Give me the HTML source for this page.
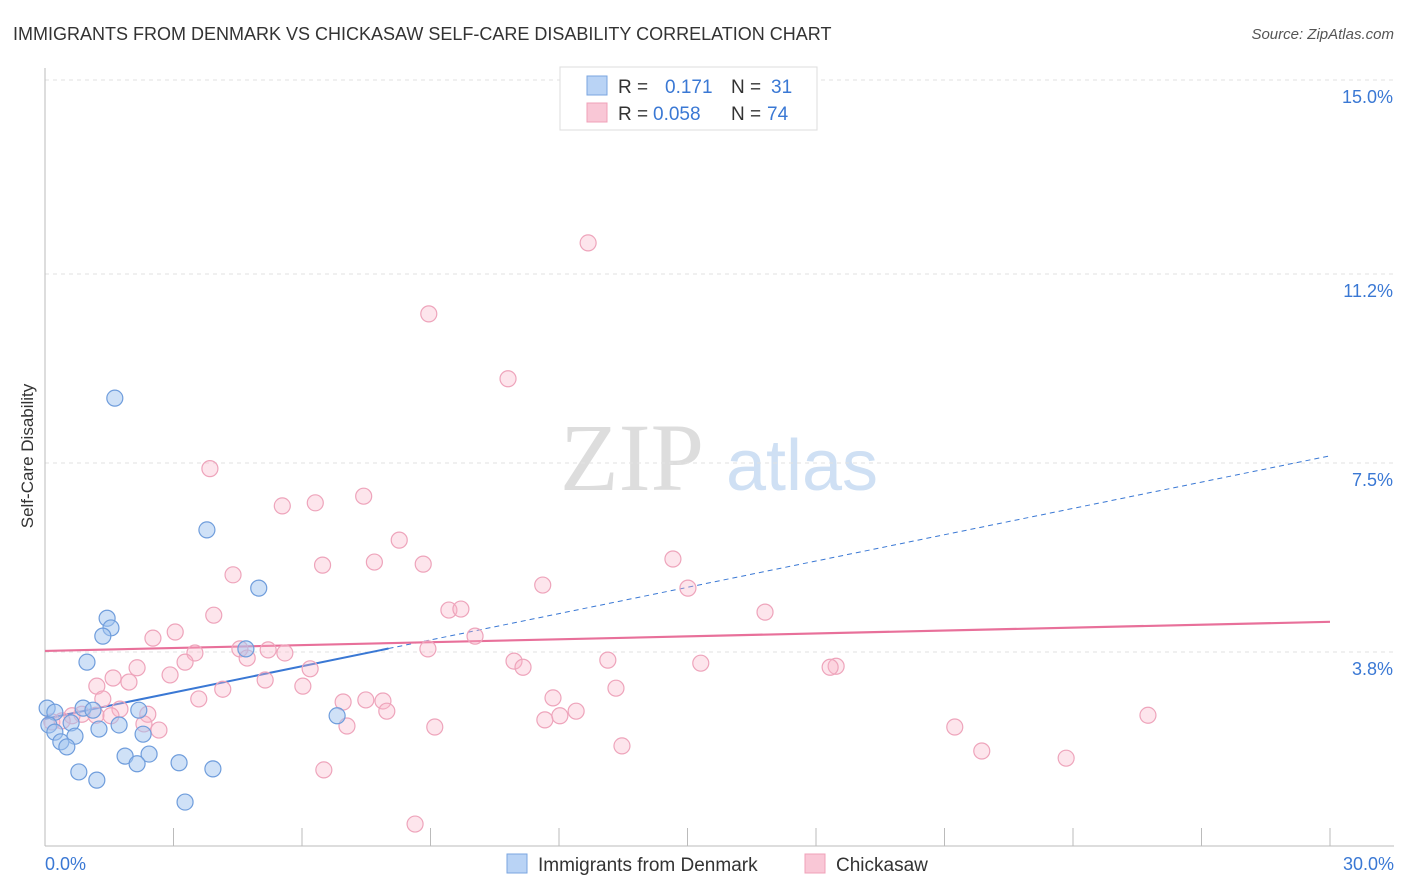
<!DOCTYPE html>
<html><head><meta charset="utf-8">
<style>
body{margin:0;background:#fff;font-family:"Liberation Sans",sans-serif;}
#wrap{position:relative;width:1406px;height:892px;overflow:hidden;}
</style></head>
<body>
<div id="wrap">
<svg id="svg" width="1406" height="892" xmlns="http://www.w3.org/2000/svg">
<text x="13" y="40" font-size="18" fill="#333">IMMIGRANTS FROM DENMARK VS CHICKASAW SELF-CARE DISABILITY CORRELATION CHART</text>
<text x="1394" y="39" font-size="15" fill="#555" text-anchor="end" font-style="italic">Source: ZipAtlas.com</text>
<text x="33" y="456" font-size="17" fill="#333" text-anchor="middle" transform="rotate(-90 33 456)">Self-Care Disability</text>
<g>
<text x="632" y="490" font-size="96" fill="#ddd" text-anchor="middle" font-family="Liberation Serif,serif">ZIP</text>
<text x="802" y="490" font-size="72" fill="#cfe0f4" text-anchor="middle">atlas</text>
</g>
<g id="grid"></g>
<g id="axes"></g>
<g id="trends"></g>
<g id="pts"></g>
<g>
<rect x="560" y="67" width="257" height="63" fill="#fff" stroke="#ddd"/>
<rect x="587" y="76" width="20" height="19" fill="#b9d3f5" stroke="#7aa6e0"/>
<rect x="587" y="103" width="20" height="19" fill="#f9c7d6" stroke="#f0a0b8"/>
<text x="618" y="93" font-size="19" fill="#333">R = </text><text x="665" y="93" font-size="19" fill="#3a78d4">0.171</text>
<text x="731" y="93" font-size="19" fill="#333">N = </text><text x="771" y="93" font-size="19" fill="#3a78d4">31</text>
<text x="618" y="120" font-size="19" fill="#333">R = </text><text x="653" y="120" font-size="19" fill="#3a78d4">0.058</text>
<text x="731" y="120" font-size="19" fill="#333">N = </text><text x="767" y="120" font-size="19" fill="#3a78d4">74</text>
</g>
<g>
<rect x="507" y="854" width="20" height="19" fill="#b9d3f5" stroke="#7aa6e0"/>
<text x="538" y="871" font-size="19" fill="#333">Immigrants from Denmark</text>
<rect x="805" y="854" width="20" height="19" fill="#f9c7d6" stroke="#f0a0b8"/>
<text x="836" y="871" font-size="19" fill="#333">Chickasaw</text>
</g>
</svg>
</div>
<script>
const blueX=[1.63,3.78,4.99,1.45,1.54,1.35,0.98,4.69,0.05,0.23,0.89,1.12,0.09,0.61,0.23,0.70,1.26,1.73,2.29,2.19,0.37,0.51,1.87,2.43,2.15,3.13,3.92,0.79,1.21,3.27,6.82];
const blueY=[8.77,6.19,5.05,4.46,4.27,4.11,3.60,3.86,2.70,2.62,2.70,2.66,2.37,2.41,2.23,2.15,2.29,2.37,2.19,2.66,2.04,1.94,1.76,1.80,1.61,1.63,1.51,1.45,1.29,0.86,2.55];
const pinkPx=[[728,243],[397,314],[506,379],[210,469],[357,497],[296,507],[331,504],[401,541],[673,560],[233,576],[319,566],[370,563],[423,565],[539,586],[688,588],[214,603],[449,598],[461,597],[765,600],[175,623],[153,629],[475,627],[240,639],[268,640],[285,643],[195,643],[428,639],[185,652],[247,648],[608,650],[514,651],[701,653],[836,656],[830,657],[137,658],[523,657],[170,666],[310,660],[113,669],[129,673],[265,671],[97,677],[303,677],[223,680],[616,679],[103,690],[199,690],[553,689],[343,693],[366,691],[383,692],[120,700],[387,702],[576,702],[82,705],[96,706],[72,707],[111,707],[148,705],[1148,706],[545,711],[560,707],[52,713],[144,715],[159,721],[347,717],[435,718],[955,718],[982,742],[622,746],[1066,758],[324,770],[415,824],[62,712]];
const pinkX=[12.68,8.96,10.81,3.85,7.44,5.54,6.31,8.27,14.66,4.39,6.48,7.69,8.83,11.62,15.01,3.94,9.43,9.71,16.81,3.04,2.52,10.04,4.55,5.21,5.6,3.5,8.94,3.27,4.72,13.14,10.95,15.31,18.47,18.33,2.15,11.16,2.92,6.19,1.59,1.96,5.14,1.21,6.02,4.15,13.33,1.35,3.59,11.86,6.96,7.49,7.89,1.75,7.98,12.4,0.86,1.19,0.63,1.54,2.4,25.75,11.67,12.02,0.16,2.31,2.66,7.05,9.1,21.24,21.87,13.47,23.84,6.51,8.64,0.4];
const pinkY=[11.81,10.42,9.15,7.39,6.85,6.66,6.72,5.99,5.62,5.31,5.5,5.56,5.52,5.11,5.05,4.52,4.62,4.64,4.58,4.19,4.07,4.11,3.86,3.84,3.78,3.78,3.86,3.6,3.68,3.64,3.62,3.58,3.52,3.5,3.49,3.5,3.35,3.47,3.29,3.21,3.25,3.13,3.13,3.07,3.09,2.88,2.88,2.9,2.82,2.86,2.84,2.68,2.64,2.64,2.58,2.56,2.55,2.55,2.58,2.56,2.47,2.55,2.43,2.39,2.27,2.35,2.33,2.33,1.86,1.96,1.72,1.49,0.43,2.45];
const yTicks=[3.8,7.5,11.2,15.0];
const yTickLabels=["3.8%","7.5%","11.2%","15.0%"];
const blueTrend=[2.49,0.1717]; // intercept, slope
const pinkTrend=[3.82,0.019];
const NS='http://www.w3.org/2000/svg';
const X0=45,X1=1330,Y0=846,Y1=80;
const sx=v=>X0+v/30*(X1-X0);
const sy=v=>Y0-v/15*(Y0-Y1);
function mk(tag,attrs,parent){const e=document.createElementNS(NS,tag);for(const k in attrs)e.setAttribute(k,attrs[k]);parent.appendChild(e);return e;}
const grid=document.getElementById('grid'),axes=document.getElementById('axes'),tr=document.getElementById('trends'),pts=document.getElementById('pts');
yTicks.forEach((t,i)=>{
 const l=mk('line',{x1:X0,x2:1394,y1:sy(t),y2:sy(t),stroke:'#e2e2e2','stroke-dasharray':'4,4'},grid);
 
 
 const tx=mk('text',{x:1393,y:sy(t)+23,'font-size':18,fill:'#3a78d4','text-anchor':'end'},grid);
 tx.textContent=yTickLabels[i];
 
 
});
const ax=mk('line',{x1:X0,x2:X0,y1:68,y2:Y0,stroke:'#bbb'},axes);


const bx=mk('line',{x1:X0,x2:1394,y1:Y0,y2:Y0,stroke:'#bbb'},axes);


for(let i=0;i<=10;i++){
 const t=mk('line',{x1:sx(i*3),x2:sx(i*3),y1:828,y2:Y0,stroke:'#bbb'},axes);
 
 
}
const xl=mk('text',{x:45,y:870,'font-size':18,fill:'#3a78d4'},axes);xl.textContent='0.0%';


const xr=mk('text',{x:1394,y:870,'font-size':18,fill:'#3a78d4','text-anchor':'end'},axes);xr.textContent='30.0%';


pinkX.forEach((x,i)=>{
 const c=mk('circle',{cx:sx(x),cy:sy(pinkY[i]),r:8,fill:'rgba(248,180,200,0.35)',stroke:'#eea4bb','stroke-width':1.2},pts);
 
 
});
blueX.forEach((x,i)=>{
 const c=mk('circle',{cx:sx(x),cy:sy(blueY[i]),r:8,fill:'rgba(160,196,240,0.5)',stroke:'#6f9ddc','stroke-width':1.2},pts);
 
 
});
const bxMax=Math.max(...blueX)+1.2;
const b1=mk('line',{x1:sx(0),y1:sy(blueTrend[0]),x2:sx(bxMax),y2:sy(blueTrend[0]+blueTrend[1]*bxMax),stroke:'#3a78d4','stroke-width':2},tr);


const b2=mk('line',{x1:sx(bxMax),y1:sy(blueTrend[0]+blueTrend[1]*bxMax),x2:sx(30),y2:sy(blueTrend[0]+blueTrend[1]*30),stroke:'#3a78d4','stroke-width':1,'stroke-dasharray':'5,4'},tr);


const p1=mk('line',{x1:sx(0),y1:sy(pinkTrend[0]),x2:sx(30),y2:sy(pinkTrend[0]+pinkTrend[1]*30),stroke:'#e8709a','stroke-width':2.2},tr);


</script>
</body></html>
